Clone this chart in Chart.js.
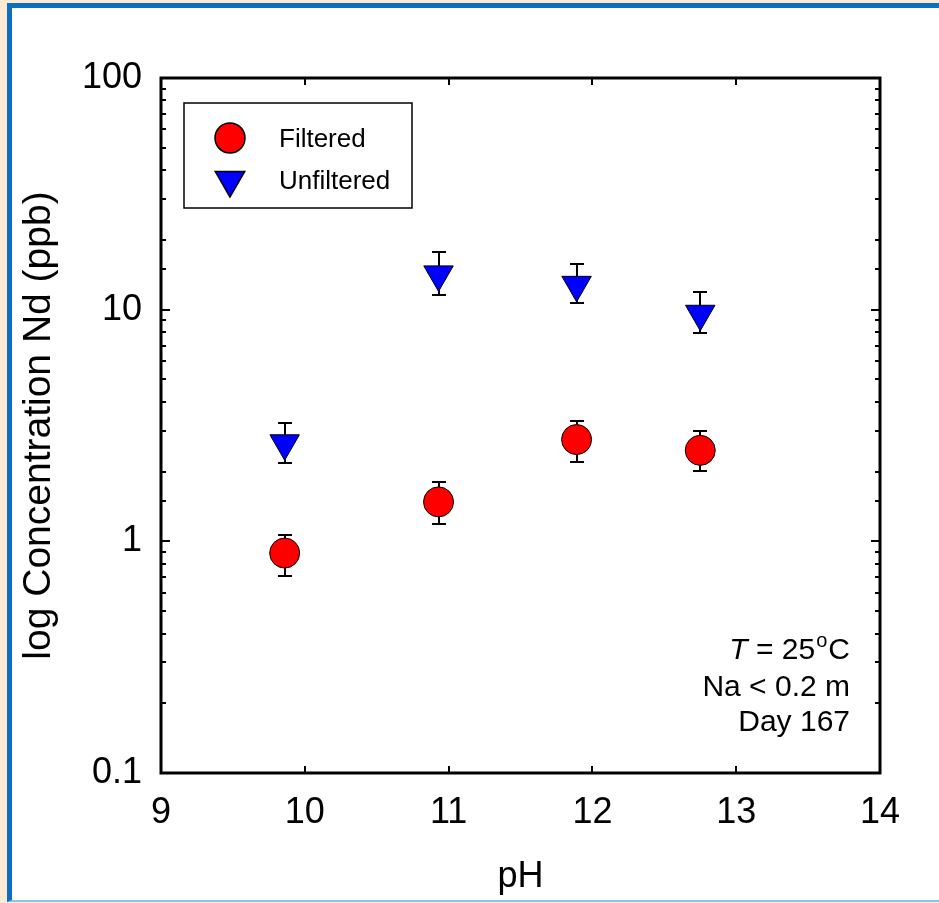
<!DOCTYPE html>
<html>
<head>
<meta charset="utf-8">
<title>Nd concentration vs pH</title>
<script src="https://cdn.jsdelivr.net/npm/chart.js@4.4.1/dist/chart.umd.min.js"></script>
<style>
    html, body { margin: 0; padding: 0; }
    body { width: 939px; height: 903px; background: #faebd2; position: relative; overflow: hidden; }
    #frame {
        position: absolute; left: 7px; top: 3px; right: 0; bottom: 1px;
        background: #fff;
        border-top: 5px solid #0b6fc1;
        border-left: 5px solid #0b6fc1;
        border-bottom: 2px solid #8cc3ec;
    }
    #wrap { position: absolute; left: 0; top: 0; width: 939px; height: 903px; }
</style>
</head>
<body>
<div id="frame"></div>
<div id="wrap"><canvas id="ndChart" width="939" height="903"></canvas></div>
<script>
// pH of each sample (shared by both series)
const phValues = [9.86, 10.93, 11.89, 12.75];

// Filtered Nd (ppb) with error bar ends
const filteredNd = [0.89, 1.48, 2.75, 2.47];
const filteredLow = [0.71, 1.19, 2.20, 2.01];
const filteredHigh = [1.06, 1.80, 3.30, 2.99];

// Unfiltered Nd (ppb) with error bar ends
const unfilteredNd = [2.65, 14.2, 12.8, 9.6];
const unfilteredLow = [2.17, 11.6, 10.7, 7.96];
const unfilteredHigh = [3.24, 17.7, 15.8, 11.9];

// axis tick labels
const xTicks = [9, 10, 11, 12, 13, 14];
const yTicks = [0.1, 1, 10, 100];

const FONT = "'Liberation Sans', Arial, sans-serif";

function toPoints(xs, ys) {
    return xs.map((x, i) => ({ x: x, y: ys[i] }));
}

function isDecade(v) {
    const l = Math.log10(v);
    return Math.abs(l - Math.round(l)) < 1e-6;
}

// error bars go under the markers
const errorBars = {
    id: 'errorBars',
    beforeDatasetsDraw(chart) {
        const { ctx, scales: { x, y } } = chart;
        ctx.save();
        ctx.strokeStyle = '#000';
        ctx.lineWidth = 2;
        chart.data.datasets.forEach(ds => {
            ds.data.forEach((p, i) => {
                const px = Math.round(x.getPixelForValue(p.x));
                const top = Math.round(y.getPixelForValue(ds.errHigh[i]));
                const bot = Math.round(y.getPixelForValue(ds.errLow[i]));
                ctx.beginPath();
                ctx.moveTo(px, top); ctx.lineTo(px, bot);
                ctx.moveTo(px - 7, top); ctx.lineTo(px + 7, top);
                ctx.moveTo(px - 7, bot); ctx.lineTo(px + 7, bot);
                ctx.stroke();
            });
        });
        ctx.restore();
    }
};

// closed frame with inward ticks on all four sides
const frameTicks = {
    id: 'frameTicks',
    afterDraw(chart) {
        const { ctx, chartArea: a, scales: { x, y } } = chart;
        ctx.save();
        ctx.strokeStyle = '#000';
        ctx.lineWidth = 2;
        ctx.beginPath();
        x.ticks.forEach(t => {
            const px = Math.round(x.getPixelForValue(t.value));
            if (px <= a.left + 2 || px >= a.right - 2) return;
            ctx.moveTo(px, a.bottom); ctx.lineTo(px, a.bottom - 7);
            ctx.moveTo(px, a.top); ctx.lineTo(px, a.top + 7);
        });
        y.ticks.forEach(t => {
            const py = Math.round(y.getPixelForValue(t.value));
            if (py <= a.top + 2 || py >= a.bottom - 2) return;
            const len = isDecade(t.value) ? 9 : 5;
            ctx.moveTo(a.left, py); ctx.lineTo(a.left + len, py);
            ctx.moveTo(a.right, py); ctx.lineTo(a.right - len, py);
        });
        ctx.stroke();
        ctx.lineWidth = 3;
        ctx.strokeRect(a.left, a.top, a.right - a.left, a.bottom - a.top);
        ctx.restore();
    }
};

// boxed legend in the upper left of the plot
const boxLegend = {
    id: 'boxLegend',
    afterDraw(chart) {
        const { ctx } = chart;
        ctx.save();
        ctx.lineWidth = 1.5;
        ctx.strokeStyle = '#000';
        ctx.strokeRect(184, 103, 228, 105);
        ctx.font = '26px ' + FONT;
        ctx.textAlign = 'left';
        ctx.textBaseline = 'alphabetic';
        const rows = [138, 180];
        chart.data.datasets.forEach((ds, i) => {
            ctx.fillStyle = ds.backgroundColor;
            ctx.strokeStyle = ds.borderColor;
            Chart.helpers.drawPoint(ctx, {
                pointStyle: ds.pointStyle,
                radius: ds.pointRadius,
                rotation: ds.rotation || 0,
                borderWidth: ds.borderWidth
            }, 230, rows[i]);
            ctx.fillStyle = '#000';
            ctx.fillText(ds.label, 279, rows[i] + 9);
        });
        ctx.restore();
    }
};

// conditions note, lower right
const conditions = {
    id: 'conditions',
    afterDraw(chart) {
        const { ctx } = chart;
        const right = 850;
        ctx.save();
        ctx.fillStyle = '#000';
        ctx.textBaseline = 'alphabetic';
        ctx.textAlign = 'right';
        // first line: italic T, superscript o
        const big = '30px ' + FONT;
        const small = '20px ' + FONT;
        ctx.font = big;
        const wC = ctx.measureText('C').width;
        ctx.fillText('C', right, 659);
        ctx.font = small;
        const wo = ctx.measureText('o').width;
        ctx.fillText('o', right - wC - 1, 647);
        ctx.font = big;
        const w25 = ctx.measureText(' = 25').width;
        ctx.fillText(' = 25', right - wC - wo - 2, 659);
        ctx.font = 'italic ' + big;
        ctx.fillText('T', right - wC - wo - 2 - w25, 659);
        ctx.font = big;
        ctx.fillText('Na < 0.2 m', right, 696);
        ctx.fillText('Day 167', right, 731);
        ctx.restore();
    }
};

const ctx = document.getElementById('ndChart').getContext('2d');
new Chart(ctx, {
    type: 'scatter',
    data: {
        datasets: [
            {
                label: 'Filtered',
                data: toPoints(phValues, filteredNd),
                errLow: filteredLow,
                errHigh: filteredHigh,
                pointStyle: 'circle',
                pointRadius: 15,
                pointHoverRadius: 15,
                backgroundColor: '#ff0000',
                borderColor: '#000',
                borderWidth: 1
            },
            {
                label: 'Unfiltered',
                data: toPoints(phValues, unfilteredNd),
                errLow: unfilteredLow,
                errHigh: unfilteredHigh,
                pointStyle: 'triangle',
                rotation: 180,
                pointRotation: 180,
                pointRadius: 17,
                pointHoverRadius: 17,
                backgroundColor: '#0000ff',
                borderColor: '#000',
                borderWidth: 1
            }
        ]
    },
    options: {
        responsive: false,
        animation: false,
        events: [],
        layout: { padding: { left: 12, right: 59, top: 78, bottom: 4 } },
        plugins: {
            legend: { display: false },
            tooltip: { enabled: false }
        },
        scales: {
            x: {
                type: 'linear',
                min: xTicks[0],
                max: xTicks[xTicks.length - 1],
                afterFit(scale) { scale.height = 126; },
                afterBuildTicks(scale) { scale.ticks = xTicks.map(v => ({ value: v })); },
                grid: { display: false, drawTicks: false },
                border: { display: false },
                ticks: {
                    color: '#000',
                    font: { family: FONT, size: 36 },
                    padding: 18,
                    maxRotation: 0,
                    autoSkip: false
                },
                title: {
                    display: true,
                    text: 'pH',
                    color: '#000',
                    font: { family: FONT, size: 36 },
                    padding: { top: 0, bottom: 0 }
                }
            },
            y: {
                type: 'logarithmic',
                min: yTicks[0],
                max: yTicks[yTicks.length - 1],
                afterFit(scale) { scale.width = 149; },
                grid: { display: false, drawTicks: false },
                border: { display: false },
                ticks: {
                    color: '#000',
                    font: { family: FONT, size: 36 },
                    padding: 19,
                    autoSkip: false,
                    callback(v) {
                        const t = yTicks.find(k => Math.abs(k - v) / k < 1e-6);
                        return t !== undefined ? String(t) : '';
                    }
                },
                title: {
                    display: true,
                    text: 'log Concentration Nd (ppb)',
                    color: '#000',
                    font: { family: FONT, size: 39 },
                    padding: { top: 4, bottom: 0 }
                }
            }
        }
    },
    plugins: [errorBars, frameTicks, boxLegend, conditions]
});
</script>
</body>
</html>
